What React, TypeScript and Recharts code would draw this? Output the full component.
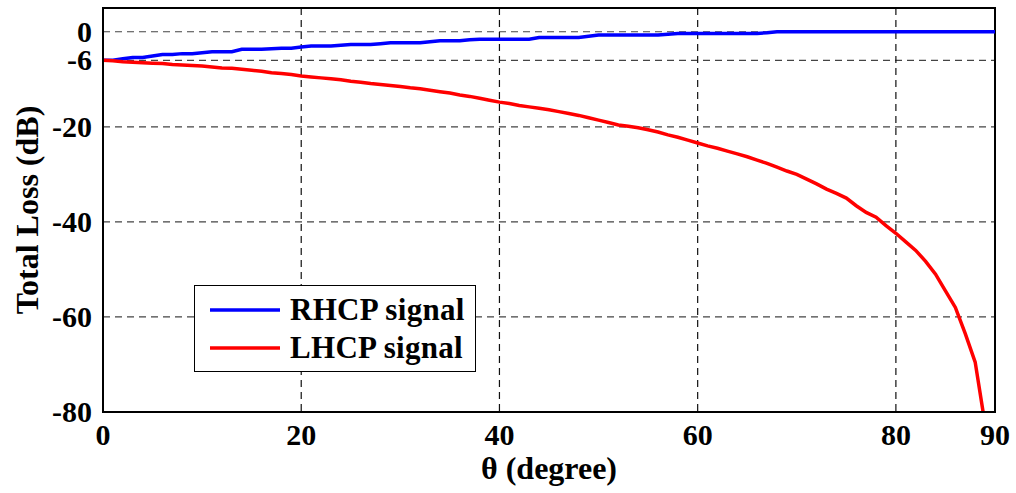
import React from "react";
import {
  LineChart,
  Line,
  XAxis,
  YAxis,
  CartesianGrid,
  ReferenceArea,
  Legend,
} from "recharts";

// θ (degree) sample positions
const thetaRHCP: number[] = [
  0, 1, 2, 3, 4, 5, 6, 7, 8, 9, 10, 11, 12, 13, 14, 15, 16, 17, 18, 19, 20,
  21, 22, 23, 24, 25, 26, 27, 28, 29, 30, 31, 32, 33, 34, 35, 36, 37, 38, 39,
  40, 41, 42, 43, 44, 45, 46, 47, 48, 49, 50, 51, 52, 53, 54, 55, 56, 57, 58,
  59, 60, 61, 62, 63, 64, 65, 66, 67, 68, 69, 70, 71, 72, 73, 74, 75, 76, 77,
  78, 79, 80, 81, 82, 83, 84, 85, 86, 87, 88, 89, 90,
];
const rhcpLoss: number[] = [
  -6, -6, -5.7, -5.4, -5.4, -5.1, -4.8, -4.8, -4.6, -4.6, -4.4, -4.2, -4.2,
  -4.2, -3.7, -3.7, -3.7, -3.55, -3.45, -3.45, -3.2, -3.0, -3.0, -3.0, -2.85,
  -2.7, -2.7, -2.7, -2.5, -2.3, -2.3, -2.3, -2.3, -2.1, -1.9, -1.9, -1.9, -1.7,
  -1.55, -1.55, -1.55, -1.55, -1.55, -1.55, -1.2, -1.2, -1.2, -1.2, -1.2,
  -0.95, -0.7, -0.7, -0.7, -0.7, -0.7, -0.7, -0.7, -0.5, -0.35, -0.35, -0.35,
  -0.35, -0.35, -0.35, -0.35, -0.35, -0.35, -0.2, 0, 0, 0, 0, 0, 0, 0, 0, 0, 0,
  0, 0, 0, 0, 0, 0, 0, 0, 0, 0, 0, 0, 0,
];

const thetaLHCP: number[] = [
  0, 1, 2, 3, 4, 5, 6, 7, 8, 9, 10, 11, 12, 13, 14, 15, 16, 17, 18, 19, 20,
  21, 22, 23, 24, 25, 26, 27, 28, 29, 30, 31, 32, 33, 34, 35, 36, 37, 38, 39,
  40, 41, 42, 43, 44, 45, 46, 47, 48, 49, 50, 51, 52, 53, 54, 55, 56, 57, 58,
  59, 60, 61, 62, 63, 64, 65, 66, 67, 68, 69, 70, 71, 72, 73, 74, 75, 76, 77,
  78, 79, 80, 81, 82, 83, 84, 85, 86, 87, 88, 88.8,
];
const lhcpLoss: number[] = [
  -6.0, -6.1, -6.3, -6.4, -6.5, -6.6, -6.7, -6.9, -7.0, -7.1, -7.2, -7.4, -7.6,
  -7.7, -7.9, -8.1, -8.3, -8.6, -8.8, -9.0, -9.3, -9.5, -9.7, -9.9, -10.1,
  -10.4, -10.6, -10.9, -11.1, -11.3, -11.5, -11.8, -12.0, -12.3, -12.6, -12.9,
  -13.3, -13.6, -14.0, -14.4, -14.8, -15.1, -15.5, -15.8, -16.1, -16.4, -16.8,
  -17.2, -17.6, -18.1, -18.6, -19.1, -19.6, -19.9, -20.2, -20.6, -21.1, -21.7,
  -22.2, -22.8, -23.4, -24.0, -24.5, -25.1, -25.7, -26.3, -27.0, -27.7, -28.5,
  -29.3, -30.0, -31.0, -32.0, -33.1, -34.0, -35.0, -36.6, -38.0, -39.0, -40.8,
  -42.4, -44.2, -46.0, -48.3, -51.0, -54.5, -58.0, -63.5, -69.5, -80,
];

const xTicks: number[] = [0, 20, 40, 60, 80, 90];
const yTicks: number[] = [0, -6, -20, -40, -60, -80];

const xTitle = "θ (degree)";
const yTitle = "Total Loss (dB)";
const seriesNames = ["RHCP signal", "LHCP signal"];
const seriesColors = ["#0000ff", "#ff0000"];

const rhcpData = thetaRHCP.map((t, i) => ({ theta: t, value: rhcpLoss[i] }));
const lhcpData = thetaLHCP.map((t, i) => ({ theta: t, value: lhcpLoss[i] }));

const FONT = "'Liberation Serif', 'Times New Roman', serif";
const TICK_SIZE = 30;

const XTick = (props: any) => {
  const { x, y, payload } = props;
  return (
    <text
      x={x}
      y={y}
      dy={TICK_SIZE * 0.71}
      textAnchor="middle"
      style={{
        fontFamily: FONT,
        fontWeight: "bold",
        fontSize: TICK_SIZE,
        fill: "#000",
      }}
    >
      {payload.value}
    </text>
  );
};

const YTick = (props: any) => {
  const { x, y, payload } = props;
  return (
    <text
      x={x}
      y={y}
      dy={TICK_SIZE * 0.34}
      textAnchor="end"
      style={{
        fontFamily: FONT,
        fontWeight: "bold",
        fontSize: TICK_SIZE,
        fill: "#000",
      }}
    >
      {payload.value}
    </text>
  );
};

const renderLegend = () => (
  <div
    style={{
      boxSizing: "border-box",
      width: 282,
      height: 87,
      border: "1.5px solid #000",
      background: "#fff",
      position: "relative",
      fontFamily: FONT,
      fontWeight: "bold",
      fontSize: 31,
      color: "#000",
    }}
  >
    {seriesNames.map((name, i) => (
      <div
        key={name}
        style={{
          position: "absolute",
          left: 0,
          top: i === 0 ? 6 : 44,
          height: 36,
          display: "flex",
          alignItems: "center",
          whiteSpace: "nowrap",
        }}
      >
        <svg width={90} height={36} style={{ display: "block" }}>
          <line
            x1={15}
            x2={85}
            y1={18}
            y2={18}
            stroke={seriesColors[i]}
            strokeWidth={3.5}
          />
        </svg>
        <span style={{ marginLeft: 5, lineHeight: "36px", letterSpacing: 0.3 }}>
          {name}
        </span>
      </div>
    ))}
  </div>
);

export default function App() {
  return (
    <div style={{ position: "absolute", left: 0, top: 0, background: "#fff" }}>
      <LineChart
        width={1016}
        height={493}
        margin={{ top: 8, right: 21, bottom: 11, left: 20 }}
      >
        <CartesianGrid
          horizontal={true}
          vertical={false}
          stroke="#444"
          strokeDasharray="7 5"
          strokeWidth={1.2}
        />
        <CartesianGrid
          horizontal={false}
          vertical={true}
          stroke="#111"
          strokeDasharray="7 5"
          strokeWidth={1.2}
        />
        <XAxis
          type="number"
          dataKey="theta"
          domain={[0, 90]}
          ticks={xTicks}
          allowDataOverflow
          height={70}
          tickLine={false}
          tickMargin={6}
          axisLine={{ stroke: "#000", strokeWidth: 2 }}
          tick={<XTick />}
          interval={0}
          label={{
            value: xTitle,
            position: "insideBottom",
            offset: 3,
            style: {
              fontSize: 32,
              fontWeight: "bold",
              fontFamily: FONT,
              fill: "#000",
            },
          }}
        />
        <YAxis
          type="number"
          domain={[-80, 5]}
          ticks={yTicks}
          allowDataOverflow
          width={83}
          tickLine={false}
          tickMargin={5}
          axisLine={{ stroke: "#000", strokeWidth: 2 }}
          tick={<YTick />}
          interval={0}
          label={{
            value: yTitle,
            angle: -90,
            position: "insideLeft",
            offset: 7,
            style: {
              textAnchor: "middle",
              fontSize: 32,
              fontWeight: "bold",
              fontFamily: FONT,
              fill: "#000",
            },
          }}
        />
        <ReferenceArea
          x1={0}
          x2={90}
          y1={-80}
          y2={5}
          fill="none"
          stroke="#000"
          strokeWidth={2}
          ifOverflow="visible"
        />
        <Line
          data={rhcpData}
          dataKey="value"
          name={seriesNames[0]}
          stroke={seriesColors[0]}
          strokeWidth={3.5}
          dot={false}
          type="linear"
          isAnimationActive={false}
        />
        <Line
          data={lhcpData}
          dataKey="value"
          name={seriesNames[1]}
          stroke={seriesColors[1]}
          strokeWidth={3.5}
          dot={false}
          type="linear"
          isAnimationActive={false}
        />
        <Legend
          layout="vertical"
          align="center"
          verticalAlign="middle"
          content={renderLegend}
          wrapperStyle={{
            position: "absolute",
            left: 194,
            top: 285,
            width: 282,
            height: 87,
          }}
        />
      </LineChart>
    </div>
  );
}
